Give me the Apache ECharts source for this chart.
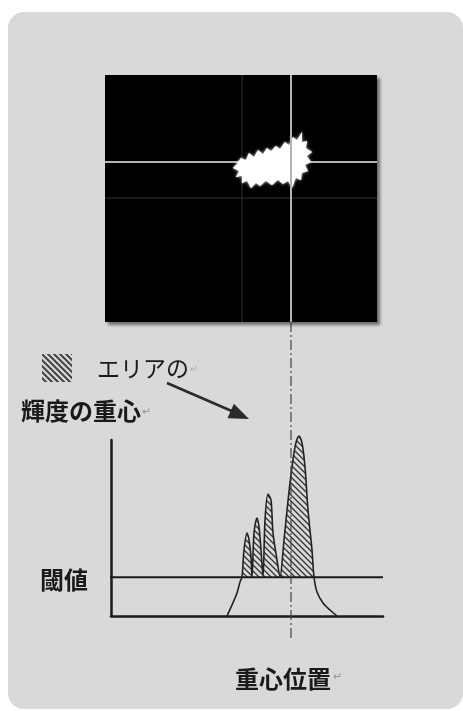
<!DOCTYPE html>
<html><head><meta charset="utf-8">
<script src="https://cdn.jsdelivr.net/npm/echarts@6/dist/echarts.min.js"></script>
<style>html,body{margin:0;padding:0;background:#fff;}#c{width:463px;height:711px;}</style>
</head><body><div id="c"></div>
<script>
// ---- data ----
// sensor image (pixel units of the camera image)
const blobX = [125,130,135,138,143,147,152,156,160,165,169,174,178,182,186,191,191,196,195,201,196,200,194,197,191,190,185,181,177,172,167,161,155,149,145,140,136,131,131,125,128,122];
const blobY = [90,83,85,78,82,75,79,73,76,71,74,67,70,62,65,57,67,66,73,77,81,87,90,96,98,105,103,113,106,109,105,110,106,111,108,113,106,108,101,102,96,93];
const centroidX = 180;      // 重心位置 (column)
const centroidY = 87;       // 重心 (row)
const gridLineX = 131;      // faint reference column
const gridLineY = 123;      // faint reference row
// brightness profile
const profileX = [116,121,126,129,131,133,136,138,140,141,143,146,148,150,152,154,157,160,162,166,169,173,179,184,188,191,194,197,201,203,206,212,219,226];
const profileY = [0,6.3,13.1,19.3,22.2,37.5,47.2,43.2,33.5,22.2,47.2,55.7,50.6,37.5,22.2,54.5,69.3,65.9,47.2,31.8,22.2,43.2,75.6,96,102.3,98.3,84.7,60.2,37.5,22.2,13.6,7.4,3.4,0];
const threshold = 22;                 // 閾値
const thresholdSpan = [-23, 272];
const centroidSpan = [167, -12.5];    // extent of the dash-dot centroid marker
const labels = { area: 'エリアの', centroid: '輝度の重心', thr: '閾値', pos: '重心位置' };

// ---- patterns ----
function hatch(s, w, color) {
  const c = document.createElement('canvas'); c.width = s; c.height = s;
  const g = c.getContext('2d'); g.strokeStyle = color; g.lineWidth = w;
  g.beginPath();
  for (const k of [-s, 0, s]) { g.moveTo(k - 1, -1); g.lineTo(k + s + 1, s + 1); }
  g.stroke(); return c;
}
const hatchArea = hatch(6, 1.3, '#333');
const hatchSwatch = hatch(6, 2, '#444');

const hatchData = [];
profileX.forEach((x, i) => { if (x >= 131 && x <= 203) hatchData.push([x, Math.max(profileY[i], threshold)]); });

const FONT = "'Noto Sans CJK JP', sans-serif";
const TW = 'bold';
const chart = echarts.init(document.getElementById('c'), null, { renderer: 'canvas' });
const option = {
  animation: false,
  backgroundColor: '#fff',
  grid: [
    { left: 105, right: 86, top: 75, bottom: 389, show: true, backgroundColor: '#000', borderWidth: 0,
      shadowColor: 'rgba(0,0,0,0.5)', shadowOffsetX: 3, shadowOffsetY: 3, shadowBlur: 3 },
    { left: 111, right: 80, top: 440, bottom: 95 }
  ],
  xAxis: [
    { gridIndex: 0, type: 'value', min: -6, max: 266, show: false },
    { gridIndex: 1, type: 'value', min: 0, max: 272,
      axisLine: { show: true, lineStyle: { color: '#1a1a1a', width: 2.5 } },
      axisTick: { show: false }, axisLabel: { show: false }, splitLine: { show: false } }
  ],
  yAxis: [
    { gridIndex: 0, type: 'value', min: 0, max: 247, inverse: true, show: false },
    { gridIndex: 1, type: 'value', min: 0, max: 100,
      axisLine: { show: true, lineStyle: { color: '#1a1a1a', width: 2.5 } },
      axisTick: { show: false }, axisLabel: { show: false }, splitLine: { show: false } }
  ],
  series: [
    // faint reference lines in the image
    { type: 'line', z: 2, xAxisIndex: 0, yAxisIndex: 0, symbol: 'none', data: [[gridLineX, 0], [gridLineX, 247]], lineStyle: { color: '#333', width: 1 } },
    { type: 'line', z: 2, xAxisIndex: 0, yAxisIndex: 0, symbol: 'none', data: [[-6, gridLineY], [266, gridLineY]], lineStyle: { color: '#333', width: 1 } },
    // crosshair at centroid
    { type: 'line', z: 2, xAxisIndex: 0, yAxisIndex: 0, symbol: 'none', data: [[-6, centroidY], [266, centroidY]], lineStyle: { color: '#b4b4b4', width: 2 } },
    // bright blob
    { type: 'custom', z: 3, xAxisIndex: 0, yAxisIndex: 0,
      data: blobX.map((x, i) => [x, blobY[i]]),
      renderItem: function (params, api) {
        if (params.dataIndex !== 0) return null;
        const pts = blobX.map((x, i) => api.coord([x, blobY[i]]));
        return { type: 'polygon', shape: { points: pts, smooth: 0.1 },
          style: { fill: '#fff', shadowBlur: 3, shadowColor: 'rgba(255,255,255,0.9)' } };
      } },
    { type: 'line', z: 4, xAxisIndex: 0, yAxisIndex: 0, symbol: 'none', data: [[centroidX, 0], [centroidX, 247]], lineStyle: { color: '#b4b4b4', width: 2 } },
    // hatched area above threshold
    { type: 'line', xAxisIndex: 1, yAxisIndex: 1, symbol: 'none', smooth: 0.3, clip: false,
      data: hatchData, lineStyle: { width: 0 },
      areaStyle: { origin: threshold, opacity: 1, color: { image: hatchArea, repeat: 'repeat' } } },
    // threshold line
    { type: 'line', xAxisIndex: 1, yAxisIndex: 1, symbol: 'none', clip: false,
      data: [[thresholdSpan[0], threshold], [thresholdSpan[1], threshold]], lineStyle: { color: '#1a1a1a', width: 2 } },
    // profile curve
    { type: 'line', xAxisIndex: 1, yAxisIndex: 1, symbol: 'none', smooth: 0.3, clip: false,
      data: profileX.map((x, i) => [x, profileY[i]]), lineStyle: { color: '#222', width: 1.6 } },
    // centroid dash-dot marker
    { type: 'line', xAxisIndex: 1, yAxisIndex: 1, symbol: 'none', clip: false,
      data: [[centroidX, centroidSpan[0]], [centroidX, centroidSpan[1]]],
      lineStyle: { color: '#444', width: 1.2, type: [10, 3, 2, 3] } }
  ],
  graphic: [
    { type: 'rect', z: -10, silent: true, shape: { x: 8, y: 12, width: 455, height: 697, r: 16 }, style: { fill: '#d9d9d9' } },
    { type: 'rect', shape: { x: 42, y: 354, width: 30, height: 28 }, style: { fill: { image: hatchSwatch, repeat: 'repeat' } } },
    { type: 'text', style: { text: labels.area, x: 97, y: 368, fontSize: 23, fontFamily: FONT, fill: '#1a1a1a', verticalAlign: 'middle' } },
    { type: 'text', style: { text: '↵', x: 190, y: 369, fontSize: 9, fontFamily: FONT, fill: '#aaa', verticalAlign: 'middle' } },
    { type: 'text', style: { text: labels.centroid, x: 21, y: 411, fontSize: 24, fontWeight: TW, fontFamily: FONT, fill: '#1a1a1a', verticalAlign: 'middle' } },
    { type: 'text', style: { text: '↵', x: 142, y: 411, fontSize: 11, fontFamily: FONT, fill: '#999', verticalAlign: 'middle' } },
    { type: 'text', style: { text: labels.thr, x: 40, y: 580, fontSize: 24, fontWeight: TW, fontFamily: FONT, fill: '#1a1a1a', verticalAlign: 'middle' } },
    { type: 'text', style: { text: labels.pos, x: 235, y: 679, fontSize: 24, fontWeight: TW, fontFamily: FONT, fill: '#1a1a1a', verticalAlign: 'middle' } },
    { type: 'text', style: { text: '↵', x: 333, y: 676, fontSize: 11, fontFamily: FONT, fill: '#999', verticalAlign: 'middle' } },
    { type: 'line', shape: { x1: 167, y1: 383, x2: 234, y2: 412 }, style: { stroke: '#2a2a2a', lineWidth: 2.5 } },
    { type: 'polygon', shape: { points: [[249, 419], [227.5, 418.3], [233.9, 403.7]] }, style: { fill: '#2a2a2a' } }
  ]
};
chart.setOption(option);
</script></body></html>
